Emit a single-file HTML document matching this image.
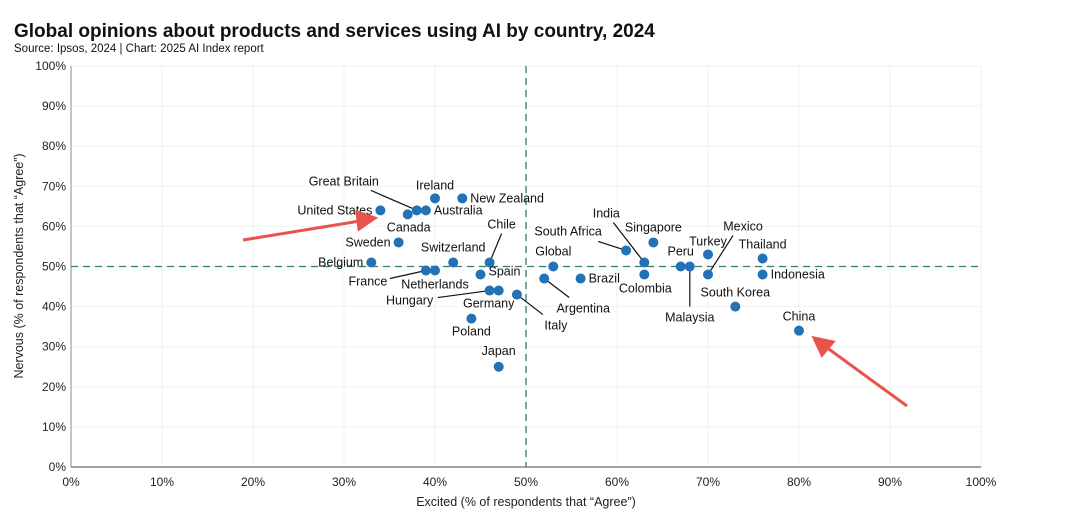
<!DOCTYPE html>
<html><head><meta charset="utf-8"><style>
body{margin:0;background:#fff;}
svg{display:block;font-family:"Liberation Sans",sans-serif;}
</style></head><body>
<svg id="chart" width="1080" height="529">
<text x="14" y="37" font-size="19" font-weight="bold" fill="#111">Global opinions about products and services using AI by country, 2024</text>
<text x="14" y="52" font-size="11.5" fill="#111">Source: Ipsos, 2024 | Chart: 2025 AI Index report</text>
<g id="grid"></g><g id="ticks"></g><g id="leaders"></g><g id="dots"></g><g id="labels"></g>
<text x="526" y="506" font-size="12.5" text-anchor="middle" fill="#222">Excited (% of respondents that “Agree”)</text>
<text transform="translate(23,266) rotate(-90)" font-size="12.5" text-anchor="middle" fill="#222">Nervous (% of respondents that “Agree”)</text>
<g stroke="#e9534d" stroke-width="3" fill="#e9534d">
<line x1="243" y1="240" x2="360" y2="221"/>
<polygon points="375,218 357,212 359,229"/>
<line x1="907" y1="406" x2="826" y2="347"/>
<polygon points="814,338 833,342 822,355"/>
</g>
</svg>
<script>
const countries=["United States","Great Britain","Australia","Canada","Ireland","New Zealand","Sweden","Belgium","Switzerland","Chile","France","Netherlands","Spain","Hungary","Germany","Italy","Poland","Japan","Global","Argentina","Brazil","South Africa","India","Singapore","Colombia","Peru","Malaysia","Turkey","Mexico","Thailand","Indonesia","South Korea","China"];
const excited=[34,38,39,37,40,43,36,33,42,46,39,40,45,46,47,49,44,47,53,52,56,61,63,64,63,67,68,70,70,76,76,73,80];
const nervous=[64,64,64,63,67,67,56,51,51,51,49,49,48,44,44,43,37,25,50,47,47,54,51,56,48,50,50,53,48,52,48,40,34];
const tickLabels=["0%","10%","20%","30%","40%","50%","60%","70%","80%","90%","100%"];
// label placement: [dx,dy,anchor,leaderDx,leaderDy]
const labelPos=[[-8,4,"end"],[-73,-25,"middle",-46,-20],[8,4,"start"],[1,17,"middle"],[0,-9,"middle"],[8,4,"start"],[-8,4,"end"],[-8,4,"end"],[0,-11,"middle"],[12,-34,"middle",12,-29],[-58,15,"middle",-36,8],[0,18,"middle"],[8,1,"start"],[-80,14,"middle",-52,7],[-10,17,"middle"],[39,35,"middle",26,20],[0,17,"middle"],[0,-12,"middle"],[0,-11,"middle"],[39,34,"middle",25,19],[8,4,"start"],[-58,-15,"middle",-28,-9],[-38,-45,"middle",-31,-40],[0,-11,"middle"],[1,18,"middle"],[0,-11,"middle"],[0,55,"middle",0,40],[0,-9,"middle"],[35,-44,"middle",25,-39],[0,-10,"middle"],[8,4,"start"],[0,-10,"middle"],[0,-10,"middle"]];
const NS="http://www.w3.org/2000/svg";
const X0=71,X1=981,Y0=467,Y1=66;
function xs(v){return X0+(X1-X0)*v/100;}
function ys(v){return Y0-(Y0-Y1)*v/100;}
function mk(t,a,p){const e=document.createElementNS(NS,t);for(const k in a)e.setAttribute(k,a[k]);document.getElementById(p).appendChild(e);return e;}
tickLabels.forEach((t,i)=>{const v=i*10;
 if(i>0){const g=mk("line",{x1:xs(v),x2:xs(v),y1:Y1,y2:Y0,stroke:"#f1f1f1"},"grid");
 
 }
 const h=mk("line",{x1:X0,x2:X1,y1:ys(v),y2:ys(v),stroke:"#f1f1f1"},"grid");
 
 
 const tx=mk("text",{x:xs(v),y:486,"font-size":12,"text-anchor":"middle",fill:"#222"},"ticks");tx.textContent=t;
 
 
 const ty=mk("text",{x:66,y:ys(v)+4,"font-size":12,"text-anchor":"end",fill:"#222"},"ticks");ty.textContent=t;
 
 
});
const ax=mk("line",{x1:X0,x2:X1,y1:Y0,y2:Y0,stroke:"#444"},"grid");


const ay=mk("line",{x1:X0,x2:X0,y1:Y1,y2:Y0,stroke:"#888"},"grid");


const rv=mk("line",{x1:xs(50),x2:xs(50),y1:Y1,y2:Y0,stroke:"#2e7d6e","stroke-dasharray":"7,5","stroke-width":1.3},"grid");


const rh=mk("line",{x1:X0,x2:X1,y1:ys(50),y2:ys(50),stroke:"#2e7d6e","stroke-dasharray":"7,5","stroke-width":1.3},"grid");


countries.forEach((c,i)=>{const px=xs(excited[i]),py=ys(nervous[i]);const lp=labelPos[i];
 const d=mk("circle",{cx:px,cy:py,r:5,fill:"#2372b6"},"dots");
 
 
 const t=mk("text",{x:px+lp[0],y:py+lp[1],"font-size":12.5,"text-anchor":lp[2],fill:"#111"},"labels");t.textContent=c;
 
 
 if(lp.length>3){const l=mk("line",{x1:px+lp[3],y1:py+lp[4],x2:px,y2:py,stroke:"#111","stroke-width":1.2},"leaders");
 
 }
});
</script>
</body></html>
